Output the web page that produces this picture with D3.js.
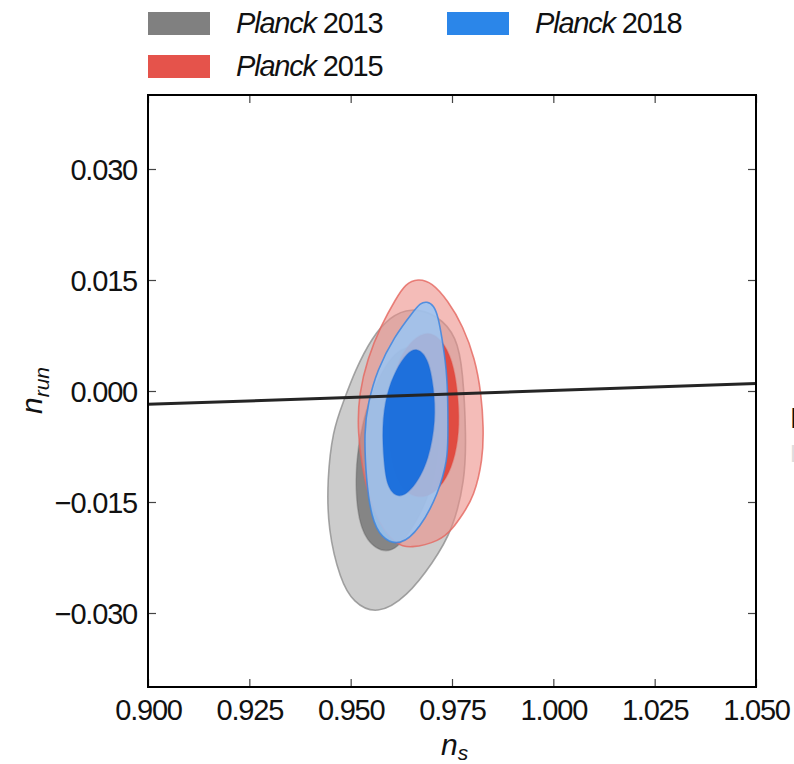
<!DOCTYPE html>
<html>
<head>
<meta charset="utf-8">
<script src="https://cdn.jsdelivr.net/npm/d3@7"></script>
<style>
  body { margin: 0; background: #fff; }
  svg { display: block; font-family: "Liberation Sans", Arial, sans-serif; }
</style>
</head>
<body>
<div id="chart"></div>
<script>
// axis ticks
var nsTicks = [0.900, 0.925, 0.950, 0.975, 1.000, 1.025, 1.050];
var nrunTicks = [-0.030, -0.015, 0.000, 0.015, 0.030];

// contour outlines, [n_s, n_run]
var p13_outer = [[0.9646,0.0113],[0.9715,0.0103],[0.9762,0.0073],[0.9777,0.0028],[0.9785,-0.0062],[0.9782,-0.0120],
  [0.9752,-0.0188],[0.9703,-0.0232],[0.9639,-0.0278],[0.9565,-0.0303],[0.9506,-0.0286],[0.9474,-0.0255],
  [0.9444,-0.0188],[0.9442,-0.0120],[0.9456,-0.0053],[0.9481,-0.0016],[0.9511,0.0028],[0.9553,0.0073],[0.9597,0.0100]];
var p13_inner = [[0.9651,0.0062],[0.9691,0.0049],[0.9715,0.0001],[0.9720,-0.0066],[0.9701,-0.0134],[0.9659,-0.0181],
  [0.9609,-0.0219],[0.9560,-0.0215],[0.9523,-0.0188],[0.9511,-0.0134],[0.9516,-0.0076],[0.9543,-0.0012],
  [0.9585,0.0035],[0.9617,0.0055]];
var p15_outer = [[0.9666,0.0152],[0.9700,0.0147],[0.9740,0.0122],[0.9777,0.0088],[0.9807,0.0043],[0.9822,-0.0003],[0.9828,-0.0049],
  [0.9826,-0.0093],[0.9804,-0.0143],[0.9777,-0.0166],[0.9752,-0.0186],[0.9720,-0.0203],[0.9646,-0.0213],
  [0.9612,-0.0207],[0.9583,-0.0189],[0.9558,-0.0165],[0.9533,-0.0120],[0.9516,-0.0053],[0.9521,-0.0003],
  [0.9541,0.0043],[0.9575,0.0089],[0.9612,0.0125],[0.9635,0.0145]];
var p15_inner = [[0.9688,0.0082],[0.9725,0.0070],[0.9751,0.0042],[0.9764,0.0001],[0.9769,-0.0046],[0.9759,-0.0087],
  [0.9737,-0.0119],[0.9703,-0.0140],[0.9666,-0.0145],[0.9630,-0.0135],[0.9607,-0.0107],[0.9595,-0.0066],
  [0.9598,-0.0012],[0.9612,0.0036],[0.9646,0.0067]];
var p18_outer = [[0.9688,0.0121],[0.9705,0.0116],[0.9716,0.0100],[0.9725,0.0073],[0.9737,0.0028],[0.9740,-0.0016],[0.9740,-0.0062],
  [0.9739,-0.0093],[0.9716,-0.0139],[0.9671,-0.0186],[0.9622,-0.0210],[0.9575,-0.0199],[0.9551,-0.0171],
  [0.9538,-0.0120],[0.9533,-0.0053],[0.9543,-0.0016],[0.9565,0.0028],[0.9608,0.0074],[0.9654,0.0107],[0.9672,0.0119]];
var p18_inner = [[0.9666,0.0059],[0.9692,0.0043],[0.9705,0.0005],[0.9710,-0.0039],[0.9693,-0.0093],[0.9660,-0.0128],
  [0.9622,-0.0147],[0.9590,-0.0132],[0.9582,-0.0097],[0.9577,-0.0049],[0.9588,-0.0003],[0.9612,0.0029],[0.9639,0.0052]];

// reference line
var refLine = [[0.900, -0.0018], [1.050, 0.0010]];

var legendNames = ["2013", "2015", "2018"];
var legendColors = ["#808080", "#e5534b", "#2b86e9"];

var margin = {top: 95, right: 38, bottom: 77, left: 148},
    width = 794 - margin.left - margin.right,
    height = 764 - margin.top - margin.bottom;

var svg = d3.select("#chart").append("svg")
    .attr("width", 794)
    .attr("height", 764);

var g = svg.append("g")
    .attr("transform", "translate(" + margin.left + "," + margin.top + ")");

var x = d3.scaleLinear().domain([0.900, 1.050]).range([0, width]);
var y = d3.scaleLinear().domain([-0.040, 0.040]).range([height, 0]);

var shape = d3.line()
    .x(function (d) { return x(d[0]); })
    .y(function (d) { return y(d[1]); })
    .curve(d3.curveBasisClosed);

var plot = g.append("g");

// contours, drawn in the order of the original figure
var layers = [
  {d: p13_outer, fill: "#999999", fo: 0.5, stroke: "#8a8a8a", so: 0.75},
  {d: p13_inner, fill: "#555555", fo: 0.6, stroke: "#555555", so: 0.3},
  {d: p15_outer, fill: "#ed8f89", fo: 0.6, stroke: "#e5675f", so: 0.8},
  {d: p15_inner, fill: "#e0453a", fo: 0.93, stroke: "#e0453a", so: 0.3},
  {d: p18_outer, fill: "#99c6f5", fo: 0.85, stroke: "#3d86e0", so: 0.85},
  {d: p18_inner, fill: "#0f68db", fo: 0.9, stroke: "#1f66d0", so: 0.3}
];

plot.selectAll("path.contour")
    .data(layers)
    .enter().append("path")
    .attr("class", "contour")
    .attr("d", function (l) { return shape(l.d); })
    .attr("fill", function (l) { return l.fill; })
    .attr("fill-opacity", function (l) { return l.fo; })
    .attr("stroke", function (l) { return l.stroke; })
    .attr("stroke-opacity", function (l) { return l.so; })
    .attr("stroke-width", 1.6);

plot.append("path")
    .datum(refLine)
    .attr("d", d3.line().x(function (d) { return x(d[0]); }).y(function (d) { return y(d[1]); }))
    .attr("stroke", "#252525")
    .attr("stroke-width", 3)
    .attr("fill", "none");

// axes, ticks pointing inward
var fmt = d3.format(".3f");

var xAxis = g.append("g")
    .attr("transform", "translate(0," + height + ")")
    .call(d3.axisBottom(x).tickValues(nsTicks).tickFormat(fmt).tickSizeInner(-8).tickSizeOuter(0).tickPadding(10));
var xTop = g.append("g")
    .call(d3.axisTop(x).tickValues(nsTicks).tickFormat("").tickSizeInner(-8).tickSizeOuter(0));
var yAxis = g.append("g")
    .call(d3.axisLeft(y).tickValues(nrunTicks).tickFormat(fmt).tickSizeInner(-8).tickSizeOuter(0).tickPadding(11));
var yRight = g.append("g")
    .attr("transform", "translate(" + width + ",0)")
    .call(d3.axisRight(y).tickValues(nrunTicks).tickFormat("").tickSizeInner(-8).tickSizeOuter(0));

g.selectAll(".domain").remove();
g.selectAll(".tick line").attr("stroke", "#444").attr("stroke-width", 1.2);
g.selectAll(".tick text")
    .attr("fill", "#111")
    .style("font-size", "29px")
    .style("letter-spacing", "-1.2px")
    .style("font-family", "Liberation Sans");
xAxis.selectAll(".tick text").attr("dy", "0.78em");
yAxis.selectAll(".tick text").attr("dy", "0.36em");

// frame
g.append("rect")
    .attr("width", width)
    .attr("height", height)
    .attr("fill", "none")
    .attr("stroke", "#000")
    .attr("stroke-width", 2);

// axis titles
var xt = svg.append("text")
    .attr("x", 441)
    .attr("y", 755)
    .style("font-size", "30px")
    .style("font-style", "italic")
    .attr("fill", "#111");
xt.append("tspan").text("n");
xt.append("tspan").attr("dy", 5).style("font-size", "21px").text("s");

var yt = svg.append("text")
    .attr("transform", "translate(42,414) rotate(-90)")
    .style("font-size", "30px")
    .style("font-style", "italic")
    .attr("fill", "#111");
yt.append("tspan").text("n");
yt.append("tspan").attr("dy", 7).style("font-size", "21px").text("run");

// legend
var legendPos = [[148, 12], [148, 55], [447, 12]];
var leg = svg.selectAll("g.legend")
    .data(legendNames)
    .enter().append("g")
    .attr("class", "legend")
    .attr("transform", function (d, i) { return "translate(" + legendPos[i][0] + "," + legendPos[i][1] + ")"; });

leg.append("rect")
    .attr("width", 62)
    .attr("height", 23)
    .attr("fill", function (d, i) { return legendColors[i]; });

var lt = leg.append("text")
    .attr("x", 88)
    .attr("y", 21)
    .style("font-size", "29px")
    .style("letter-spacing", "-1.2px")
    .attr("fill", "#111");
lt.append("tspan").style("font-style", "italic").text("Planck");
lt.append("tspan").text(function (d) { return " " + d; });

// pieces of the next panel peeking in at the right edge
svg.append("text").attr("x", 790).attr("y", 428).style("font-size", "30px").attr("fill", "#111").text("L");
svg.append("text").attr("x", 790).attr("y", 462).style("font-size", "24px").attr("fill", "#ddd").text("L");
</script>
</body>
</html>
